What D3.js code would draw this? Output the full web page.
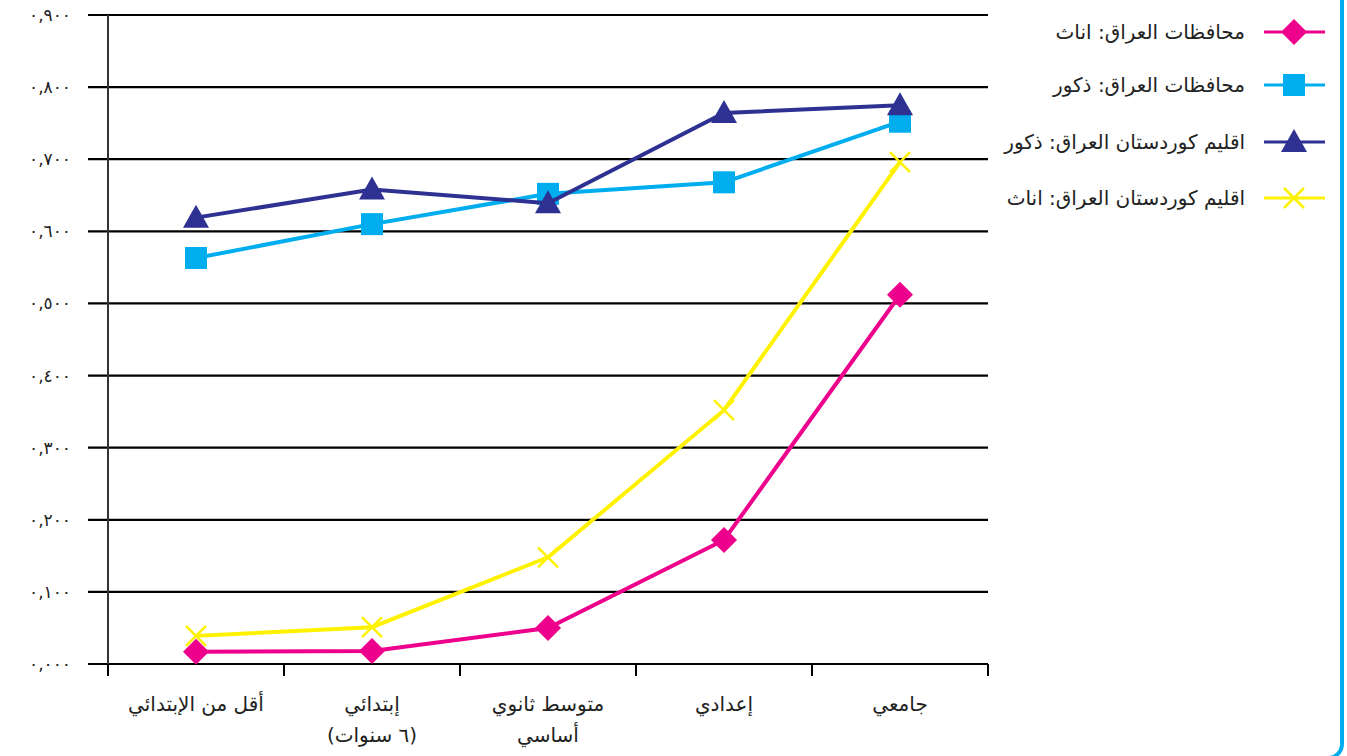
<!DOCTYPE html>
<html>
<head>
<meta charset="utf-8">
<script src="https://cdn.jsdelivr.net/npm/d3@7"></script>
<style>
  body { margin: 0; background: #fff; }
  #chart { width: 1347px; height: 756px; }
  text { font-family: "DejaVu Sans", sans-serif; fill: #222; }
</style>
</head>
<body>
<div id="chart"></div>
<script>
const categories = ["أقل من الإبتدائي", "إبتدائي\n(٦ سنوات)", "متوسط ثانوي\nأساسي", "إعدادي", "جامعي"];
const tickValues = [0, 0.1, 0.2, 0.3, 0.4, 0.5, 0.6, 0.7, 0.8, 0.9];
const tickLabels = ["٠,٠٠٠", "٠,١٠٠", "٠,٢٠٠", "٠,٣٠٠", "٠,٤٠٠", "٠,٥٠٠", "٠,٦٠٠", "٠,٧٠٠", "٠,٨٠٠", "٠,٩٠٠"];
const seriesNames = ["محافظات العراق: اناث", "محافظات العراق: ذكور", "اقليم كوردستان العراق: ذكور", "اقليم كوردستان العراق: اناث"];
const iraqFemale = [0.017, 0.018, 0.050, 0.172, 0.512];
const iraqMale = [0.563, 0.610, 0.652, 0.668, 0.752];
const kurdMale = [0.619, 0.658, 0.639, 0.764, 0.775];
const kurdFemale = [0.039, 0.051, 0.148, 0.352, 0.696];

const series = [
  { name: seriesNames[0], values: iraqFemale, color: "#EC008C", symbol: "diamond" },
  { name: seriesNames[1], values: iraqMale, color: "#00AEEF", symbol: "square" },
  { name: seriesNames[2], values: kurdMale, color: "#2E3192", symbol: "triangle" },
  { name: seriesNames[3], values: kurdFemale, color: "#FFF200", symbol: "cross" }
];

const width = 1347, height = 756;
const plotLeft = 108, plotRight = 988, plotTop = 15, plotBottom = 664;

const svg = d3.select("#chart").append("svg")
  .attr("width", width).attr("height", height);

// frame edge on the right
svg.append("rect")
  .attr("x", -100).attr("y", -100)
  .attr("width", 1442).attr("height", 858)
  .attr("rx", 14)
  .attr("fill", "none")
  .attr("stroke", "#00AEEF")
  .attr("stroke-width", 4);

const x = d3.scaleBand().domain(d3.range(categories.length)).range([plotLeft, plotRight]);
const y = d3.scaleLinear().domain([0, 0.9]).range([plotBottom, plotTop]);

// gridlines + y tick labels
const grid = svg.append("g");
grid.selectAll("line").data(tickValues).enter().append("line")
  .attr("x1", plotLeft - 20).attr("x2", plotRight)
  .attr("y1", d => y(d)).attr("y2", d => y(d))
  .attr("stroke", "#000").attr("stroke-width", 2.2);

grid.selectAll("text").data(tickValues).enter().append("text")
  .attr("x", 71).attr("y", d => y(d))
  .attr("dy", "0.35em")
  .attr("text-anchor", "end")
  .attr("direction", "ltr")
  .style("font-size", "17px")
  .text((d, i) => tickLabels[i]);

// y axis line
svg.append("line")
  .attr("x1", plotLeft).attr("x2", plotLeft)
  .attr("y1", plotTop).attr("y2", plotBottom)
  .attr("stroke", "#333").attr("stroke-width", 2);

// x ticks at band edges
const edges = d3.range(categories.length + 1).map(i => plotLeft + i * x.bandwidth());
svg.selectAll(".xtick").data(edges).enter().append("line")
  .attr("class", "xtick")
  .attr("x1", d => d).attr("x2", d => d)
  .attr("y1", plotBottom).attr("y2", plotBottom + 12)
  .attr("stroke", "#000").attr("stroke-width", 2);

// x labels
categories.forEach((c, i) => {
  const cx = x(i) + x.bandwidth() / 2;
  const t = svg.append("text")
    .attr("x", cx)
    .attr("y", 711)
    .attr("text-anchor", "middle")
    .style("font-size", "20px");
  c.split("\n").forEach((ln, j) => {
    t.append("tspan")
      .attr("x", cx)
      .attr("dy", j === 0 ? 0 : 31)
      .text(ln);
  });
});

function drawMarker(g, s, cx, cy) {
  if (s.symbol === "diamond") {
    g.append("path").attr("d", `M${cx},${cy - 13}L${cx + 13},${cy}L${cx},${cy + 13}L${cx - 13},${cy}Z`)
      .attr("fill", s.color);
  } else if (s.symbol === "square") {
    g.append("rect").attr("x", cx - 11).attr("y", cy - 11).attr("width", 22).attr("height", 22)
      .attr("fill", s.color);
  } else if (s.symbol === "triangle") {
    g.append("path").attr("d", `M${cx},${cy - 13}L${cx + 13},${cy + 10}L${cx - 13},${cy + 10}Z`)
      .attr("fill", s.color);
  } else {
    g.append("path").attr("d", `M${cx - 10},${cy - 10}L${cx + 10},${cy + 10}M${cx + 10},${cy - 10}L${cx - 10},${cy + 10}`)
      .attr("stroke", s.color).attr("stroke-width", 2.5).attr("fill", "none");
  }
}

const line = d3.line()
  .x((d, i) => x(i) + x.bandwidth() / 2)
  .y(d => y(d));

series.forEach(s => {
  const g = svg.append("g");
  g.append("path").datum(s.values)
    .attr("d", line)
    .attr("fill", "none")
    .attr("stroke", s.color)
    .attr("stroke-width", 4);
  s.values.forEach((v, i) => drawMarker(g, s, x(i) + x.bandwidth() / 2, y(v)));
});

// legend
const legendY = [32, 85, 142, 198];
series.forEach((s, i) => {
  const g = svg.append("g");
  const ly = legendY[i];
  g.append("line").attr("x1", 1264).attr("x2", 1325).attr("y1", ly).attr("y2", ly)
    .attr("stroke", s.color).attr("stroke-width", 3);
  drawMarker(g, s, 1294, ly);
  g.append("text")
    .attr("x", 1245).attr("y", ly)
    .attr("dy", "0.35em")
    .attr("text-anchor", "start")
    .attr("direction", "rtl")
    .style("font-size", "20px")
    .text(s.name);
});
</script>
</body>
</html>
